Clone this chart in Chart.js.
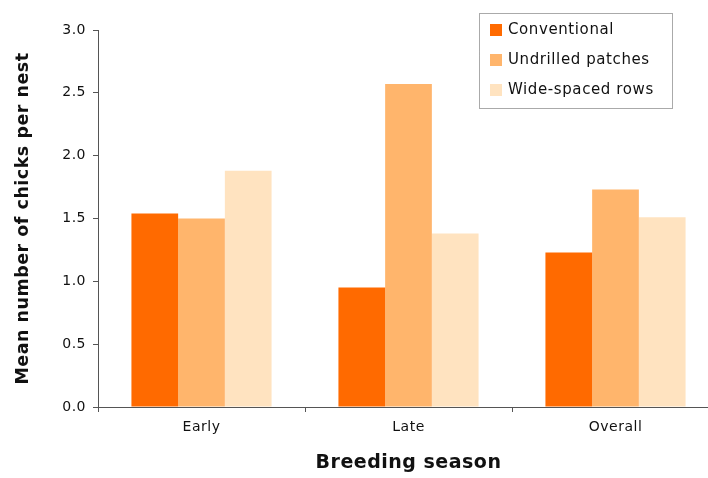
<!DOCTYPE html>
<html>
<head>
<meta charset="utf-8">
<script src="https://cdn.jsdelivr.net/npm/chart.js@4"></script>
<style>
  html, body { margin: 0; padding: 0; background: #fff; overflow: hidden; }
  /* the original plot runs a little past the right edge of the picture */
  #wrap { width: 708px; height: 478px; overflow: hidden; }
</style>
</head>
<body>
<div id="wrap"><canvas id="chart" width="720" height="478"></canvas></div>
<script>
const seasons = ["Early", "Late", "Overall"];
const conventional = [1.54, 0.95, 1.23];
const undrilledPatches = [1.50, 2.57, 1.73];
const wideSpacedRows = [1.88, 1.38, 1.51];
const yTicks = [0, 0.5, 1.0, 1.5, 2.0, 2.5, 3.0];

const seriesNames = ["Conventional", "Undrilled patches", "Wide-spaced rows"];
const colors = ["#ff6a00", "#ffb56c", "#ffe3c0"];
const font = "'DejaVu Sans', Arial, sans-serif";

// the original text is set a little loose, so space all letters out a bit
const looseText = {
  id: "looseText",
  beforeDraw(chart) { chart.ctx.letterSpacing = "0.5px"; }
};

// legend box in the top right corner
const boxLegend = {
  id: "boxLegend",
  afterDraw(chart) {
    const c = chart.ctx;
    const x = 479, y = 13, w = 193, h = 95;
    c.save();
    c.strokeStyle = "#555";
    c.lineWidth = 1;
    c.setLineDash([1, 1]);
    c.strokeRect(x + 0.5, y + 0.5, w, h);
    c.setLineDash([]);
    c.font = "15px " + font;
    c.letterSpacing = "0.6px";
    c.textBaseline = "middle";
    chart.data.datasets.forEach((ds, i) => {
      const rowY = y + 17 + i * 30;
      c.fillStyle = ds.backgroundColor;
      c.fillRect(x + 11, rowY - 6, 12, 12);
      c.fillStyle = "#111";
      c.fillText(ds.label, x + 29, rowY);
    });
    c.restore();
  }
};

new Chart(document.getElementById("chart"), {
  type: "bar",
  data: {
    labels: seasons,
    datasets: [conventional, undrilledPatches, wideSpacedRows].map((d, i) => ({
      label: seriesNames[i],
      data: d,
      backgroundColor: colors[i],
      borderWidth: 0,
      categoryPercentage: 0.677,
      barPercentage: 1.0
    }))
  },
  options: {
    responsive: false,
    animation: false,
    layout: { padding: { top: 30, right: 1, left: 0, bottom: 0 } },
    plugins: {
      legend: { display: false },
      tooltip: { enabled: false }
    },
    scales: {
      x: {
        afterFit(scale) { scale.height = 71; },
        grid: {
          offset: true,
          drawOnChartArea: false,
          drawTicks: true,
          tickLength: 5,
          color: "#555"
        },
        border: { color: "#555", dash: [1, 1] },
        ticks: {
          color: "#111",
          padding: 7,
          font: { family: font, size: 14 }
        },
        title: {
          display: true,
          text: "Breeding season",
          color: "#111",
          padding: { top: 20 },
          font: { family: font, size: 19, weight: "bold" }
        }
      },
      y: {
        min: 0,
        max: 3,
        afterFit(scale) { scale.width = 98; },
        afterBuildTicks(scale) { scale.ticks = yTicks.map(v => ({ value: v })); },
        grid: {
          drawOnChartArea: false,
          drawTicks: true,
          tickLength: 5,
          color: "#555"
        },
        border: { color: "#555", dash: [1, 1] },
        ticks: {
          color: "#111",
          padding: 7,
          font: { family: font, size: 14 },
          callback: v => v.toFixed(1)
        },
        title: {
          display: true,
          text: "Mean number of chicks per nest",
          color: "#111",
          padding: { top: 13, bottom: 4 },
          font: { family: font, size: 17.5, weight: "bold" }
        }
      }
    }
  },
  plugins: [looseText, boxLegend]
});
</script>
</body>
</html>
